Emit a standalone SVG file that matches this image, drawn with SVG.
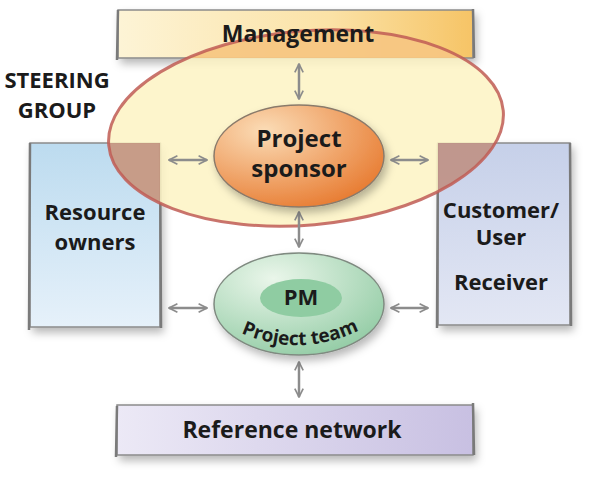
<svg xmlns="http://www.w3.org/2000/svg" width="600" height="481" viewBox="0 0 600 481">
<defs>
<style>
.t{font-family:"Open Sans","Liberation Sans",sans-serif;font-weight:bold;fill:#1b1b1b;text-anchor:middle}
.box{stroke:#8a8a8a;stroke-width:1.5}
.side{stroke:#7a7a7a;stroke-width:2.5;fill:none}
.arr{stroke:#8c8c8c;stroke-width:2.5;fill:none;marker-start:url(#ah);marker-end:url(#ah)}
</style>
<marker id="ah" viewBox="0 0 10 10" refX="9" refY="5" markerWidth="4.2" markerHeight="4.2" orient="auto-start-reverse" markerUnits="strokeWidth">
<path d="M1,1 L9,5 L1,9" fill="none" stroke="#8c8c8c" stroke-width="1.6"/>
</marker>
<filter id="sh" x="-20%" y="-20%" width="140%" height="150%">
<feDropShadow dx="3" dy="5" stdDeviation="4" flood-color="#000" flood-opacity="0.28"/>
</filter>
<linearGradient id="gMg" x1="0" y1="0" x2="1" y2="0">
<stop offset="0" stop-color="#fdf4d6"/><stop offset="0.6" stop-color="#fbe2a6"/><stop offset="1" stop-color="#f6c466"/>
</linearGradient>
<linearGradient id="gRef" x1="0" y1="0" x2="1" y2="0">
<stop offset="0" stop-color="#ece9f6"/><stop offset="1" stop-color="#c8c0e2"/>
</linearGradient>
<linearGradient id="gRes" x1="0" y1="0" x2="0" y2="1">
<stop offset="0" stop-color="#bcdbef"/><stop offset="1" stop-color="#e6f1fa"/>
</linearGradient>
<linearGradient id="gCus" x1="0" y1="0" x2="0" y2="1">
<stop offset="0" stop-color="#c6d0e9"/><stop offset="1" stop-color="#e3e7f4"/>
</linearGradient>
<radialGradient id="gSp" cx="0.3" cy="0.25" r="0.85">
<stop offset="0" stop-color="#fbdcb6"/><stop offset="1" stop-color="#e7792e"/>
</radialGradient>
<radialGradient id="gPm" cx="0.35" cy="0.25" r="0.85">
<stop offset="0" stop-color="#eaf6ea"/><stop offset="1" stop-color="#8fcaa2"/>
</radialGradient>
<clipPath id="cSt">
<ellipse cx="306" cy="128" rx="198" ry="97" transform="rotate(-5 306 128)"/>
</clipPath>
<path id="arcPT" d="M 231,328 Q 300,364 369,325"/>
</defs>

<g id="resource-owners">
<rect class="box" x="30" y="143" width="130" height="184" fill="url(#gRes)" filter="url(#sh)"/>
<path class="side" d="M30,143 L29,330 M160,143 L161,328"/>
</g>
<g id="customer-user">
<rect class="box" x="438" y="143" width="132" height="182" fill="url(#gCus)" filter="url(#sh)"/>
<path class="side" d="M438,143 L437,328 M570,143 L571,326"/>
</g>
<g id="management">
<rect class="box" x="118" y="10" width="355" height="48" fill="url(#gMg)" filter="url(#sh)"/>
<path class="side" d="M118,10 L117,60 M473,9 L474,58"/>
</g>
<g id="reference-network">
<rect class="box" x="117" y="405" width="356" height="50" fill="url(#gRef)" filter="url(#sh)"/>
<path class="side" d="M117,406 L116,457 M473,403 L474,455"/>
</g>

<g id="steering-group">
<ellipse cx="306" cy="128" rx="198" ry="97" transform="rotate(-5 306 128)" fill="#fdf4c4" fill-opacity="0.87"/>
<g clip-path="url(#cSt)">
<rect x="30" y="143" width="130" height="184" fill="#a8645c" fill-opacity="0.6"/>
<rect x="438" y="143" width="132" height="182" fill="#9c5c66" fill-opacity="0.6"/>
<rect x="118" y="10" width="355" height="48" fill="#f2a652" fill-opacity="0.55"/>
</g>
<ellipse cx="306" cy="128" rx="198" ry="97" transform="rotate(-5 306 128)" fill="none" stroke="#bf5c55" stroke-opacity="0.85" stroke-width="3"/>
<text class="t" x="57" y="88" font-size="22">STEERING</text>
<text class="t" x="57" y="118" font-size="22">GROUP</text>
</g>

<g id="connectors">
<line class="arr" x1="299" y1="64" x2="299" y2="99"/>
<line class="arr" x1="299" y1="212" x2="299" y2="247"/>
<line class="arr" x1="299" y1="362" x2="299" y2="397"/>
<line class="arr" x1="169" y1="160" x2="207" y2="160"/>
<line class="arr" x1="391" y1="160" x2="428" y2="160"/>
<line class="arr" x1="169" y1="308" x2="207" y2="308"/>
<line class="arr" x1="391" y1="308" x2="428" y2="308"/>
</g>

<g id="project-sponsor">
<ellipse cx="299" cy="156" rx="85" ry="51" fill="url(#gSp)" stroke="#8a7a6a" stroke-width="1.5" filter="url(#sh)"/>
<text class="t" x="299" y="147" font-size="24">Project</text>
<text class="t" x="299" y="177" font-size="24">sponsor</text>
</g>

<g id="pm">
<ellipse cx="299" cy="304" rx="85" ry="51" fill="url(#gPm)" stroke="#7f8a80" stroke-width="1.5" filter="url(#sh)"/>
<ellipse cx="301" cy="298" rx="41" ry="19" fill="#8fcca2"/>
<text class="t" x="301" y="305" font-size="22">PM</text>
<text class="t" font-size="19"><textPath href="#arcPT" startOffset="50%">Project team</textPath></text>
</g>

<text class="t" x="298" y="42" font-size="23">Management</text>
<text class="t" x="95" y="220" font-size="22">Resource</text>
<text class="t" x="95" y="250" font-size="22">owners</text>
<text class="t" x="501" y="218" font-size="22">Customer/</text>
<text class="t" x="501" y="245" font-size="22">User</text>
<text class="t" x="501" y="290" font-size="22">Receiver</text>
<text class="t" x="292" y="438" font-size="23">Reference network</text>
</svg>
